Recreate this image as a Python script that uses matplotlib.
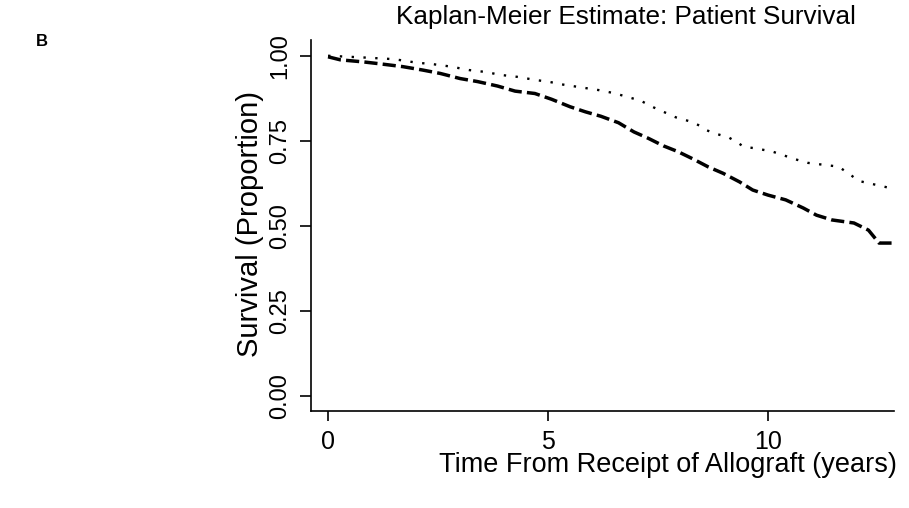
"""
Kaplan-Meier patient survival curves (panel B), redrawn with matplotlib.
"""

import matplotlib
import matplotlib.pyplot as plt

matplotlib.use("Agg")

plt.rcParams["font.family"] = ["Liberation Sans", "DejaVu Sans"]

# --- Data ---
dashed_t = [0, 0.28, 0.8, 1.2, 1.7, 2.15, 2.55, 3.0, 3.4, 3.85, 4.25, 4.7,
            5.08, 5.5, 5.85, 6.2, 6.6, 6.95, 7.28, 7.62, 7.95, 8.3, 8.64,
            8.98, 9.35, 9.65, 10.0, 10.4, 10.8, 11.1, 11.45, 11.95, 12.28,
            12.52, 12.86]
dashed_s = [0.997, 0.988, 0.982, 0.976, 0.968, 0.958, 0.948, 0.933, 0.924,
            0.911, 0.896, 0.889, 0.872, 0.850, 0.835, 0.822, 0.803, 0.776,
            0.757, 0.735, 0.718, 0.696, 0.673, 0.654, 0.629, 0.605, 0.590,
            0.576, 0.552, 0.531, 0.517, 0.508, 0.487, 0.449, 0.449]

dotted_t = [0, 0.8, 1.5, 2.0, 2.4, 2.8, 3.2, 3.6, 3.9, 4.3, 4.75, 5.0, 5.3,
            5.65, 5.9, 6.15, 6.5, 7.1, 7.25, 7.4, 7.9, 8.25, 8.45, 8.6, 8.8,
            9.1, 9.3, 9.45, 9.7, 10.1, 10.4, 10.55, 10.9, 11.4, 11.6, 11.9,
            12.05, 12.7, 12.86]
dotted_s = [1.0, 0.995, 0.99, 0.98, 0.975, 0.968, 0.958, 0.952, 0.944,
            0.938, 0.928, 0.924, 0.916, 0.909, 0.904, 0.899, 0.89, 0.868,
            0.858, 0.848, 0.819, 0.806, 0.794, 0.781, 0.771, 0.760, 0.745,
            0.732, 0.728, 0.718, 0.705, 0.698, 0.685, 0.677, 0.674, 0.647,
            0.632, 0.613, 0.613]

x_ticks = [0, 5, 10]
y_ticks = [0.00, 0.25, 0.50, 0.75, 1.00]

# --- Figure ---
fig = plt.figure(figsize=(9.09, 5.08), dpi=100)
ax = fig.add_axes([0.342, 0.191, 0.6415, 0.730])

# many tiny KM steps -> drawn as a continuous path, like the printed figure
ax.plot(dotted_t, dotted_s, color="black", linewidth=1.7,
        linestyle=(0, (1, 4)))
ax.plot(dashed_t, dashed_s, color="black", linewidth=2.5,
        linestyle=(0, (3.8, 1.5)))

ax.set_xlim(-0.39, 12.86)
ax.set_ylim(-0.045, 1.046)

ax.spines["top"].set_visible(False)
ax.spines["right"].set_visible(False)
for side in ("left", "bottom"):
    ax.spines[side].set_linewidth(1.2)

ax.set_xticks(x_ticks)
ax.set_xticklabels([str(t) for t in x_ticks])
ax.set_yticks(y_ticks)
ax.set_yticklabels([f"{v:.2f}" for v in y_ticks], rotation=90, va="center")
ax.tick_params(axis="x", length=7, width=1.2, pad=7, labelsize=18)
ax.tick_params(axis="y", length=8, width=1.2, pad=6, labelsize=17)

fig.text(250 / 909, 1 - 224 / 508, "Survival (Proportion)", rotation=90,
         ha="center", va="center", fontsize=21)
fig.text(626 / 909, 1 - 17 / 508, "Kaplan-Meier Estimate: Patient Survival",
         ha="center", va="center", fontsize=18.8)
fig.text(668 / 909, 1 - 465 / 508, "Time From Receipt of Allograft (years)",
         ha="center", va="center", fontsize=19.5)
fig.text(42 / 909, 1 - 42 / 508, "B", ha="center", va="center",
         fontsize=12, fontweight="bold")

fig.savefig("out.png", dpi=100, facecolor="white")
